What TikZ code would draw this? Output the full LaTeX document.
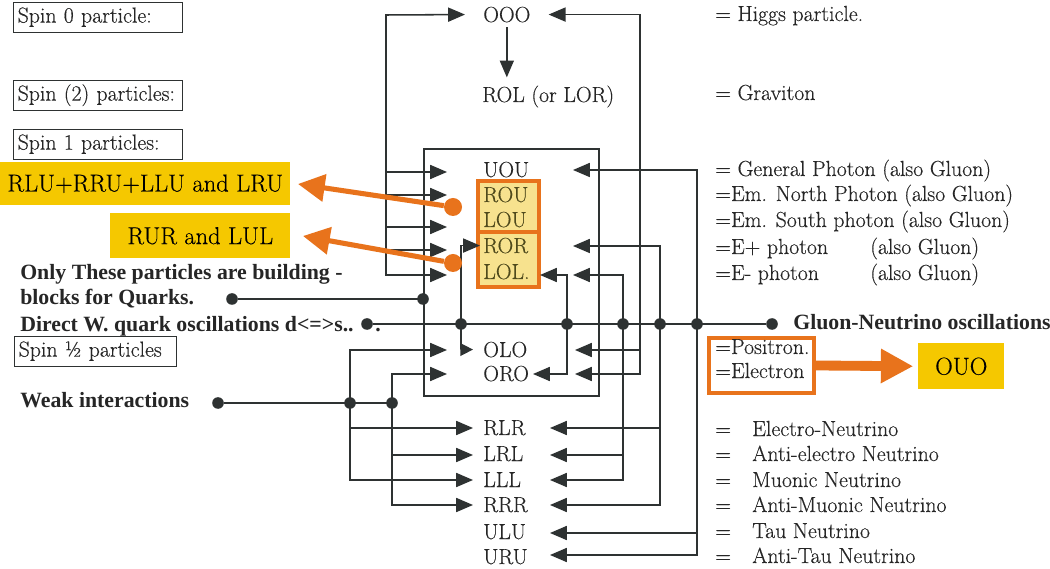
\documentclass[tikz,border=0pt]{standalone}
\usepackage{fontspec}
\setmainfont{Liberation Serif}
\newfontfamily\lmr{Latin Modern Roman}[FakeBold=0.3]
\usetikzlibrary{arrows.meta}
\definecolor{wirec}{HTML}{2E3232}
\definecolor{orng}{HTML}{E8731C}
\definecolor{gold}{HTML}{F5C800}
\definecolor{paley}{HTML}{F7E28E}
\definecolor{olivetxt}{HTML}{4F4A1C}
\begin{document}
\begin{tikzpicture}[x=0.025cm,y=-0.025cm,
  wire/.style={draw=wirec,line width=1.1pt},
  arr/.style={wire,-{Triangle[length=12pt,width=10pt]}},
  sarr/.style={wire,-{Triangle[length=9pt,width=9pt]}},
  dbl/.style={wire,{Triangle[length=12pt,width=10pt]}-{Triangle[length=12pt,width=10pt]}},
  jdot/.style={circle,fill=wirec,inner sep=0pt,minimum size=0.29cm},
  fs/.style={font=\lmr\fontsize{15.5}{18}\selectfont},
  txt/.style={fs,inner sep=0pt,anchor=base west,text=black!85},
  bld/.style={txt,font=\fontsize{15.5}{18}\selectfont\bfseries},
  spinbox/.style={draw=wirec,line width=1pt,fs,anchor=north west,inner xsep=0.1cm,inner ysep=0pt,minimum height=0.75cm,text height=10pt,text depth=3pt,align=left,text=black!85},
  ybox/.style={fill=gold,inner sep=0pt,anchor=north west,font=\lmr\fontsize{17.4}{20}\selectfont},
  hl/.style={draw=orng,line width=2.6pt,fill=paley,inner sep=0pt,anchor=north west},
  oarr/.style={draw=orng,line width=3.6pt,-{Triangle[length=19pt,width=19pt]}},
  odot/.style={circle,fill=orng,inner sep=0pt,minimum size=0.45cm},
]
\useasboundingbox[fill=white] (0,0) rectangle (1050,569);

% spin boxes
\node[spinbox,text width=4.025cm] (s0) at (13,2) {Spin 0 particle:};
\node[spinbox,text width=4.025cm] (s2) at (13,80) {Spin (2) particles:};
\node[spinbox,text width=4.025cm] (s1) at (13,129) {Spin 1 particles:};
\node[spinbox,text width=3.85cm] (sh) at (14,336) {Spin ½ particles};

% yellow labels
\node[ybox,minimum width=7.25cm,minimum height=1.075cm] (yA) at (0,162) {RLU+RRU+LLU and LRU};
\node[ybox,minimum width=4.5cm,minimum height=1.125cm] (yB) at (110,213) {RUR and LUL};

% core box and highlights
\node[draw=wirec,line width=1.1pt,minimum width=4.375cm,minimum height=6.175cm,anchor=north west,inner sep=0pt] (core) at (423,148) {};
\node[hl,minimum width=1.525cm,minimum height=1.275cm] (hA) at (476,179) {};
\node[hl,minimum width=1.525cm,minimum height=1.375cm] (hB) at (476,230) {};

% particle labels
\node[txt] (OOO) at (483,22) {OOO};
\node[txt] (ROL) at (482,102) {ROL (or LOR)};
\node[txt] (UOU) at (483,177) {UOU};
\node[txt,text=olivetxt] (ROU) at (483,202) {ROU};
\node[txt,text=olivetxt] (LOU) at (483,227) {LOU};
\node[txt,text=olivetxt] (ROR) at (483,253) {ROR};
\node[txt,text=olivetxt] (LOL) at (483,279) {LOL.};
\node[txt] (OLO) at (483,357) {OLO};
\node[txt] (ORO) at (483,381) {ORO};
\node[txt] (RLR) at (483,435) {RLR};
\node[txt] (LRL) at (483,461) {LRL};
\node[txt] (LLL) at (483,487) {LLL};
\node[txt] (RRR) at (483,512) {RRR};
\node[txt] (ULU) at (483,539) {ULU};
\node[txt] (URU) at (483,564) {URU};

% right descriptions
\node[txt] (dHiggs) at (715,21) {= Higgs particle.};
\node[txt] (dGrav) at (715,100) {= Graviton};
\node[txt] (dGen) at (715,176) {= General Photon (also Gluon)};
\node[txt] (dNorth) at (715,201) {=Em. North Photon (also Gluon)};
\node[txt] (dSouth) at (715,227) {=Em. South photon (also Gluon)};
\node[txt] (dEp) at (715,254) {=E+ photon};
\node[txt] (dEpg) at (870,254) {(also Gluon)};
\node[txt] (dEm) at (715,280) {=E- photon};
\node[txt] (dEmg) at (870,280) {(also Gluon)};

\node[draw=orng,line width=2.8pt,fill=white,anchor=north west,minimum width=2.625cm,minimum height=1.375cm,inner sep=0pt] (pbox) at (707,336) {};
\node[txt] (dPos) at (715,354) {=Positron.};
\node[txt] (dEl) at (715,378) {=Electron};
\node[ybox,minimum width=2.15cm,minimum height=1.15cm] (OUO) at (918,343) {OUO};
\draw[draw=orng,line width=7pt,-{Triangle[length=23pt,width=23pt]},shorten >=0.12cm] (pbox.east) -- (OUO.west);

\node[txt] (e1) at (715,436) {=}; \node[txt] (n1) at (752,436) {Electro-Neutrino};
\node[txt] (e2) at (715,461) {=}; \node[txt] (n2) at (752,461) {Anti-electro Neutrino};
\node[txt] (e3) at (715,487) {=}; \node[txt] (n3) at (752,487) {Muonic Neutrino};
\node[txt] (e4) at (715,512) {=}; \node[txt] (n4) at (752,512) {Anti-Muonic Neutrino};
\node[txt] (e5) at (715,538) {=}; \node[txt] (n5) at (752,538) {Tau Neutrino};
\node[txt] (e6) at (715,563) {=}; \node[txt] (n6) at (752,563) {Anti-Tau Neutrino};

% left bold texts
\node[bld] (tOnly) at (20,280) {Only These particles are building -};
\node[bld] (tBlocks) at (20,305) {blocks for Quarks.};
\node[bld] (tDirect) at (20,332) {Direct W. quark oscillations d<=>s..};
\node[bld] (tDot) at (375,332) {.};
\node[bld] (tWeak) at (20,407) {Weak interactions};
\node[bld] (tGN) at (793,330) {Gluon-Neutrino oscillations};

% coordinates
\coordinate (cQ) at (423,299);
\coordinate (c461) at (461,324);
\coordinate (c567) at (567,324);
\coordinate (c623) at (623,324);
\coordinate (c660) at (660,324);
\coordinate (c697) at (697,324);
\coordinate (c350) at (350,403);
\coordinate (c392) at (392,403);

% wires
\draw[dbl] (447,275) -| (386,15) -- ([xshift=-0.45cm]OOO.west);
\draw[arr] (386,172) -- (447,172);
\draw[arr] (386,195) -- (447,195);
\draw[arr] (386,227) -- (447,227);
\draw[arr] (386,250) -- (447,250);
\draw[arr,shorten <=0.12cm,shorten >=0.2cm] (OOO.south) -- (OOO.south |- ROL.north);

\draw[dbl] ([xshift=0.45cm]OOO.east) -| (640,374) -- (575,374);
\draw[arr] (640,350) -- (575,350);

\draw[dbl] (573,170) -| (697,555) -- (550,555);
\draw[arr] (697,533) -- (550,533);
\draw[dbl] (573,246) -| (660,505) -- (550,505);
\draw[arr] (660,428) -- (550,428);
\draw[dbl] (573,275) -| (623,480) -- (550,480);
\draw[arr] (623,455) -- (550,455);
\draw[dbl] (540,275) -| (567,374) -- (533,374);

\draw[arr] (c461) |- ([xshift=-0.075cm]ROR.west);
\draw[sarr] (c461) |- ([xshift=-0.25cm]OLO.west);

\draw[dbl] (447,350) -| (350,480) -- (473,480);
\draw[arr] (350,428) -- (473,428);
\draw[dbl] (447,374) -| (392,505) -- (473,505);
\draw[arr] (392,455) -- (473,455);

\node[jdot] (dQ) at (232,299) {};
\node[jdot] (dW) at (367,324) {};
\node[jdot] (dWeak) at (218,403) {};
\node[jdot] (dGN) at (772,324) {};
\draw[wire] (dQ) -- (cQ);
\draw[wire] (dW) -- (dGN);
\draw[wire] (dWeak) -- (c392);
\foreach \c in {cQ,c461,c567,c623,c660,c697,c350,c392} \node[jdot] at (\c) {};

% orange pointers
\node[odot] (oA) at (453,207) {};
\node[odot] (oB) at (453,263) {};
\draw[oarr] (oA) -- (298,184);
\draw[oarr] (oB) -- (303,236);
\end{tikzpicture}
\end{document}
